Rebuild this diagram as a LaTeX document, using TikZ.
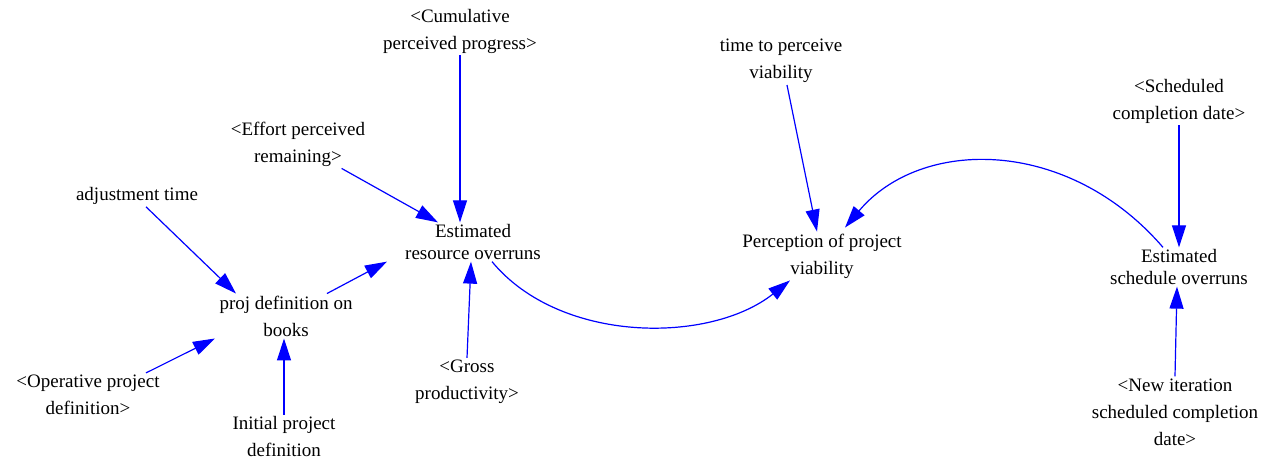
\documentclass[tikz,border=0pt]{standalone}
\usepackage{fontspec}
\setmainfont{Liberation Serif}
\usetikzlibrary{arrows.meta,calc}
\begin{document}
\begin{tikzpicture}[x=1pt,y=-1pt,
  lbl/.style={align=center,inner sep=2pt,font=\fontsize{19}{27}\selectfont},
  lbltight/.style={align=center,inner sep=2pt,font=\fontsize{19}{21.5}\selectfont},
  arr/.style={draw=blue,line width=1.2pt,-{Triangle[length=22pt,width=14pt]}}]
\useasboundingbox (0,0) rectangle (1270,462);
\node[lbl] (cum) at (460,31) {<Cumulative\\perceived progress>};
\node[lbl] (ttp) at (781,61) {time to perceive\\viability};
\node[lbl] (scd) at (1179,101) {<Scheduled\\completion date>};
\node[lbl] (eff) at (298,144) {<Effort perceived\\remaining>};
\node[lbl] (adj) at (137,196) {adjustment time};
\node[lbltight] (ero) at (473,242) {Estimated\\resource overruns};
\node[lbl] (ppv) at (822,256) {Perception of project\\viability};
\node[lbltight] (eso) at (1179,267) {Estimated\\schedule overruns};
\node[lbl] (pdb) at (286,316) {proj definition on\\books};
\node[lbl] (opd) at (88,395) {<Operative project\\definition>};
\node[lbl] (gp) at (467,382) {<Gross\\productivity>};
\node[lbl] (ipd) at (284,437) {Initial project\\definition};
\node[lbl] (nit) at (1175,412) {<New iteration\\scheduled completion\\date>};

\draw[arr] (cum.south) -- (cum.south |- ero.north);
\draw[arr] (eff) -- (ero);
\draw[arr] ([xshift=9]adj.south) -- ([xshift=-50]pdb.north);
\draw[arr] ([xshift=41]pdb.north) -- ([xshift=-86]ero.south);
\draw[arr] ([xshift=58]opd.north) -- ([xshift=-71]pdb.south);
\draw[arr] (ipd.north) -- (ipd.north |- pdb.south);
\draw[arr] (gp.north) -- ([xshift=-2]ero.south);
\draw[arr] ([xshift=6]ttp.south) -- ([xshift=-5]ppv.north);
\draw[arr] (scd.south) -- (scd.south |- eso.north);
\draw[arr] (nit.north) -- ([xshift=-2]eso.south);
\draw[arr] ([xshift=19]ero.south) .. controls (560,344) and (710,344) .. ([xshift=-32]ppv.south);
\draw[arr] ([xshift=-16]eso.north) .. controls (1068,137) and (921,137) .. ([xshift=23,yshift=4]ppv.north);
\end{tikzpicture}
\end{document}
